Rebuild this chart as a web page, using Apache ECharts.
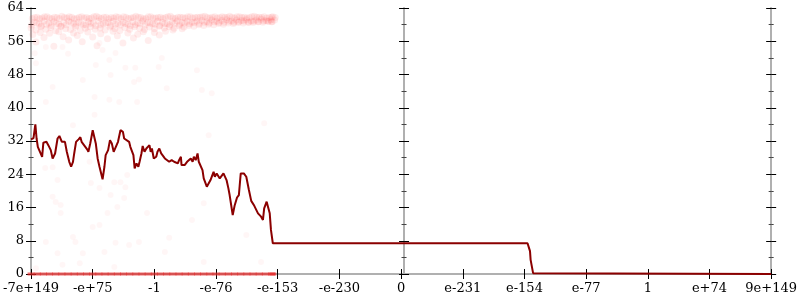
<!DOCTYPE html>
<html>
<head>
<meta charset="utf-8">
<script src="https://cdn.jsdelivr.net/npm/echarts@6/dist/echarts.min.js"></script>
<style>html,body{margin:0;padding:0;background:#fff}#c{width:800px;height:300px}</style>
</head>
<body>
<div id="c"></div>
<script>
// x axis: 13 evenly spaced tick labels (ordered float space)
const xLabels = ['-7e+149','-e+75','-1','-e-76','-e-153','-e-230','0','e-231','e-154','e-77','1','e+74','9e+149'];
// main dark red line
const lineX = [0.00,0.04,0.07,0.09,0.11,0.14,0.18,0.20,0.25,0.28,0.32,0.35,0.39,0.43,0.46,0.50,0.53,0.55,0.58,0.62,0.65,0.68,0.70,0.73,0.77,0.80,0.82,0.85,0.88,0.91,0.93,0.96,1.00,1.02,1.05,1.08,1.11,1.16,1.19,1.21,1.25,1.28,1.31,1.34,1.37,1.41,1.45,1.49,1.51,1.54,1.59,1.61,1.66,1.68,1.71,1.74,1.76,1.79,1.81,1.84,1.87,1.89,1.92,1.94,1.96,1.99,2.03,2.05,2.08,2.11,2.13,2.17,2.20,2.24,2.28,2.32,2.35,2.38,2.40,2.43,2.44,2.49,2.53,2.56,2.59,2.62,2.64,2.67,2.70,2.72,2.75,2.78,2.80,2.85,2.88,2.91,2.94,2.96,2.98,3.01,3.04,3.06,3.09,3.12,3.14,3.17,3.20,3.22,3.23,3.27,3.30,3.34,3.37,3.40,3.45,3.49,3.53,3.57,3.62,3.68,3.73,3.76,3.78,3.82,3.84,3.87,3.89,3.92,8.05,8.09,8.10,8.14,12.00];
const lineY = [32.4,32.7,36.0,32.6,30.6,30.2,28.2,31.6,31.8,31.0,29.8,27.8,29.0,32.6,33.2,31.8,31.4,31.8,29.4,27.0,25.8,27.0,29.0,31.8,32.4,32.9,31.8,31.4,30.6,30.0,29.4,31.4,34.6,34.2,31.4,27.8,25.8,22.8,25.8,28.6,29.8,32.2,31.4,29.4,29.0,31.8,34.6,34.2,32.6,32.6,31.8,30.6,28.6,25.4,26.6,25.8,27.0,29.0,30.8,29.4,30.2,30.6,31.0,29.4,30.2,27.8,28.2,29.4,30.2,29.0,28.6,27.8,27.4,27.0,27.4,27.0,27.4,26.6,27.4,28.2,26.2,26.2,27.0,27.3,27.8,27.0,28.2,27.4,29.0,27.0,27.3,25.0,23.0,21.0,20.9,22.6,23.8,24.6,23.4,24.2,23.8,23.0,23.4,24.2,24.6,22.6,20.6,19.0,18.6,14.2,16.4,18.4,19.0,24.2,24.2,23.4,20.4,17.6,16.4,14.6,13.8,13.0,15.8,17.4,17.0,14.6,10.6,7.4,7.4,5.5,3.4,0.2,0.0];
// dense pink band near the top
const bandX = [0.02,0.10,0.18,0.26,0.34,0.42,0.50,0.58,0.66,0.74,0.82,0.90,0.98,1.06,1.14,1.22,1.30,1.38,1.46,1.54,1.62,1.70,1.78,1.86,1.94,2.02,2.10,2.18,2.26,2.34,2.42,2.50,2.58,2.66,2.74,2.82,2.90,2.98,3.06,3.14,3.22,3.30,3.38,3.46,3.54,3.62,3.70,3.78,3.86,3.92];
const bandTop = [61.5,61.8,61.6,61.9,61.4,61.7,62.0,61.6,61.8,61.5,61.9,61.7,61.6,62.0,61.5,61.8,61.7,61.9,61.4,61.8,61.6,62.0,61.7,61.5,61.9,61.6,61.8,61.7,62.0,61.5,61.8,61.6,61.9,61.7,61.8,62.0,61.6,61.9,61.7,61.8,62.0,61.6,61.9,61.8,61.7,62.0,61.8,61.9,61.7,61.9];
const bandTop2 = [61.7,61.4,61.9,61.6,61.8,61.5,61.7,61.9,61.4,61.8,61.6,61.5,61.9,61.7,61.8,61.4,61.6,61.8,61.9,61.5,61.7,61.8,61.4,61.9,61.6,61.7,61.5,61.9,61.6,61.8,61.7,61.9,61.6,61.8,61.9,61.7,61.8,61.6,61.9,61.7,61.8,61.9,61.7,61.6,61.9,61.8,61.7,61.6,61.8,61.7];
const bandMid = [60.6,60.2,60.9,60.4,60.7,60.1,60.5,60.8,60.3,60.6,60.0,60.7,60.4,60.9,60.2,60.5,60.8,60.3,60.6,60.1,60.7,60.4,60.9,60.5,60.2,60.8,60.6,60.3,60.7,60.9,60.5,60.8,60.6,60.9,61.0,60.7,61.1,60.8,61.0,61.2,60.9,61.1,61.0,61.2,60.9,61.1,61.3,61.0,61.2,61.1];
const bandMid2 = [59.9,60.4,59.7,60.1,59.8,60.3,59.6,60.0,60.5,59.8,60.2,59.9,60.3,59.7,60.0,60.4,59.8,60.1,59.9,60.3,59.7,60.0,60.2,59.9,60.4,60.1,59.8,60.2,60.0,60.3,60.1,60.4,60.2,60.5,60.3,60.6,60.4,60.7,60.5,60.6,60.8,60.6,60.7,60.9,60.6,60.8,60.7,60.9,60.8,60.7];
const bandLow = [59.2,58.7,59.5,58.9,59.3,58.5,59.6,59.0,58.8,59.4,58.6,59.1,59.5,58.9,59.2,58.7,59.4,59.0,58.6,59.3,58.9,59.5,59.1,58.8,59.4,59.0,59.6,59.2,59.5,59.1,59.7,59.4,59.8,59.6,60.0,59.8,60.1,60.0,60.3,60.1,60.4,60.3,60.5,60.4,60.6,60.5,60.7,60.6,60.8,60.7];
const bandLoose = [[0.03,57.6],[0.08,55.8],[0.15,58.1],[0.21,56.9],[0.30,57.9],[0.37,54.8],[0.45,58.3],[0.52,57.1],[0.61,56.3],[0.69,58.0],[0.75,57.4],[0.83,55.9],[0.92,58.2],[1.00,57.0],[1.07,54.9],[1.13,57.8],[1.24,56.6],[1.33,58.4],[1.40,57.3],[1.49,55.6],[1.57,58.0],[1.66,56.8],[1.73,57.7],[1.82,58.3],[1.90,56.2],[2.00,58.1],[2.08,57.5],[2.18,58.4],[2.30,58.7],[2.45,59.0]];
// faint scattered points
const faint = [[0.06,53.1],[0.60,53.0],[0.08,50.7],[0.84,46.7],[1.05,50.3],[0.35,45.0],[1.03,42.6],[1.27,51.5],[1.29,47.9],[1.53,49.6],[1.69,49.6],[1.67,46.2],[1.75,46.8],[2.07,49.8],[2.12,52.0],[2.20,44.7],[2.69,49.0],[2.77,44.3],[2.93,43.5],[1.16,53.9],[1.37,53.2],[0.24,54.6],[0.51,54.6],[1.11,55.6],[0.24,41.4],[0.68,35.8],[1.03,38.3],[1.27,41.9],[1.43,41.4],[1.72,41.4],[2.88,33.4],[3.78,36.3],[0.23,25.5],[0.35,25.7],[0.43,22.6],[0.95,27.0],[1.35,22.1],[1.45,22.1],[1.56,23.8],[0.97,21.9],[1.11,20.7],[1.53,20.9],[0.35,18.6],[1.29,19.0],[1.51,18.3],[0.40,17.3],[0.48,16.6],[0.48,14.7],[1.24,14.7],[1.40,16.1],[1.88,14.7],[2.80,17.0],[2.61,13.0],[1.00,11.3],[1.11,11.8],[0.68,8.9],[0.72,7.7],[0.24,7.7],[1.37,7.5],[1.59,7.0],[1.75,7.7],[2.24,8.7],[3.49,9.4],[0.43,5.0],[0.84,5.0],[1.19,5.3],[2.17,5.3],[0.51,2.2],[0.79,2.6],[1.35,1.7],[2.80,2.9],[3.73,2.9],[0.08,1.4]];
// points at zero
const zeroX = [0.00,0.10,0.20,0.30,0.40,0.50,0.60,0.70,0.80,0.90,1.00,1.10,1.20,1.30,1.40,1.50,1.60,1.70,1.80,1.90,2.00,2.10,2.20,2.30,2.40,2.50,2.60,2.70,2.80,2.90,3.00,3.10,3.20,3.30,3.40,3.50,3.60,3.70,3.80,3.90,3.92];
const yTicks = {min: 0, max: 64, step: 8};

const FONT = 'DejaVu Serif';
const axisGray = '#b0b0b0';

const lineData = lineX.map((x, i) => [x, lineY[i]]);
const bandData = [];
bandX.forEach((x, i) => {
  bandData.push([x, bandTop[i]], [x + 0.04, bandTop2[i]], [x + 0.03, bandMid[i]], [x - 0.01, bandMid2[i]], [x - 0.02, bandLow[i]]);
});
bandLoose.forEach(p => bandData.push(p));
const zeroData = zeroX.map(x => [x, 0]);

function xAx(inside, showLabel, pos) {
  return {
    type: 'value', min: 0, max: 12, interval: 1, position: pos || 'bottom',
    axisLine: {show: showLabel || pos === 'top', lineStyle: {color: axisGray, width: 2}},
    axisTick: {show: pos !== 'top', inside: inside, length: 5, lineStyle: {color: '#000', width: 1}},
    axisLabel: {show: showLabel, margin: 8, fontFamily: FONT, fontSize: 13, color: '#000',
      formatter: v => xLabels[Math.round(v)], showMinLabel: true, showMaxLabel: true},
    splitLine: {show: false}
  };
}
function yAx(pos, offset, inside, showLabel, showLine) {
  return {
    type: 'value', min: yTicks.min, max: yTicks.max, interval: yTicks.step, position: pos, offset: offset,
    axisLine: {show: showLine, onZero: false, lineStyle: {color: axisGray, width: 2}},
    axisTick: {show: true, inside: inside, length: 5, lineStyle: {color: '#000', width: 1}},
    minorTick: {show: true, splitNumber: 2, length: 2.5, lineStyle: {color: '#444', width: 1}},
    axisLabel: {show: showLabel, margin: 7, fontFamily: FONT, fontSize: 13, color: '#000'},
    splitLine: {show: false}
  };
}

const chart = echarts.init(document.getElementById('c'), null, {renderer: 'canvas'});
chart.setOption({
  animation: false,
  backgroundColor: '#fff',
  grid: {left: 28, right: 26, top: 8, bottom: 26, containLabel: false},
  xAxis: [xAx(true, true), xAx(false, false), xAx(false, false, 'top')],
  yAxis: [
    yAx('left', 0, true, true, true), yAx('left', 0, false, false, false),
    yAx('left', -373, true, false, true), yAx('left', -373, false, false, false),
    yAx('right', 0, true, false, true), yAx('right', 0, false, false, false)
  ],
  series: [
    {type: 'scatter', data: faint, symbol: 'circle', symbolSize: 6, silent: true,
      itemStyle: {color: 'rgba(255,0,0,0.045)'}, z: 3},
    {type: 'scatter', data: bandData, symbol: 'circle', symbolSize: 7, silent: true,
      itemStyle: {color: 'rgba(255,0,0,0.085)'}, z: 3},
    {type: 'scatter', data: zeroData, symbol: 'rect', symbolSize: [7, 3], silent: true,
      itemStyle: {color: 'rgba(232,40,40,0.85)'}, z: 3},
    {type: 'line', data: lineData, showSymbol: false, symbol: 'none', z: 4,
      lineStyle: {color: '#8b0000', width: 2}}
  ]
});
</script>
</body>
</html>
